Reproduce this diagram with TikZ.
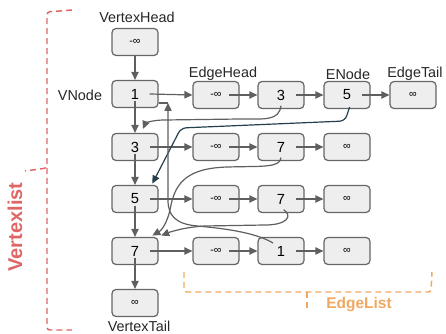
\documentclass[tikz,border=0pt]{standalone}
\usepackage{fontspec}
\setmainfont{Liberation Sans}
\usetikzlibrary{arrows.meta}
\definecolor{boxfill}{HTML}{EEEEEE}
\definecolor{boxline}{HTML}{666666}
\definecolor{linkgray}{HTML}{5F5F5F}
\definecolor{linkdark}{HTML}{263F4C}
\definecolor{listred}{HTML}{E06666}
\definecolor{listorange}{HTML}{F0A860}

\begin{document}
\begin{tikzpicture}[x=0.75pt,y=-0.75pt,
  box/.style={draw=boxline,fill=boxfill,line width=0.9pt,rounded corners=3pt,
    minimum width=34.5pt,minimum height=20.25pt,inner sep=0pt,
    font=\fontsize{11}{13}\selectfont},
  infbox/.style={box,font=\fontsize{8}{10}\selectfont},
  lbl/.style={font=\fontsize{10.8}{13}\selectfont,text=black!85},
  link/.style={draw=linkgray,line width=0.9pt,-{Triangle[length=6pt,width=5.5pt]}},
  plain link/.style={draw=linkgray,line width=0.9pt},
  brace/.style={line width=1.1pt,dash pattern=on 4.5pt off 3pt,rounded corners=2pt}]
\useasboundingbox (0,0) rectangle (446,334);
% Vertex list
\node[infbox] (vh) at (135,42) {-∞};
\node[box] (v1) at (135,94) {1};
\node[box] (v3) at (135,147) {3};
\node[box] (v5) at (135,199) {5};
\node[box] (v7) at (135,251) {7};
\node[infbox] (vt) at (135,303) {∞};
% Edge lists
\node[infbox] (h1) at (216,95) {-∞};
\node[box] (a1) at (281,95) {3};
\node[box] (b1) at (347,95) {5};
\node[infbox] (t1) at (413,95) {∞};
\node[infbox] (h3) at (216,147) {-∞};
\node[box] (a3) at (281,147) {7};
\node[infbox] (t3) at (347,147) {∞};
\node[infbox] (h5) at (216,199) {-∞};
\node[box] (a5) at (281,199) {7};
\node[infbox] (t5) at (347,199) {∞};
\node[infbox] (h7) at (216,251) {-∞};
\node[box] (b7) at (281,251) {1};
\node[infbox] (t7) at (347,251) {∞};
% Labels
\node[lbl] (vhlbl) at (137,17) {VertexHead};
\node[lbl] (vnlbl) at (80,95) {VNode};
\node[lbl] (ehlbl) at (223,74) {EdgeHead};
\node[lbl] (enlbl) at (348,74) {ENode};
\node[lbl] (etlbl) at (415,74) {EdgeTail};
\node[lbl] (vtlbl) at (139,326) {VertexTail};
% Vertical links
\draw[link] (vh.south) -- (v1.north);
\draw[link] ([yshift=-5pt]v1.center) -- (v3.north);
\draw[link] ([yshift=-5pt]v3.center) -- (v5.north);
\draw[link] ([yshift=-5pt]v5.center) -- (v7.north);
\draw[link] ([yshift=-5pt]v7.center) -- (vt.north);
% Horizontal links
\draw[link] ([xshift=11pt]v1.center) -- (h1.west);
\draw[link] ([xshift=10pt]h1.center) -- (a1.west);
\draw[link] ([xshift=11pt]a1.center) -- (b1.west);
\draw[link] ([xshift=11pt]b1.center) -- (t1.west);
\draw[link] ([xshift=11pt]v3.center) -- (h3.west);
\draw[link] ([xshift=10pt]h3.center) -- (a3.west);
\draw[link] ([xshift=11pt]a3.center) -- (t3.west);
\draw[link] ([xshift=11pt]v5.center) -- (h5.west);
\draw[link] ([xshift=10pt]h5.center) -- (a5.west);
\draw[link] ([xshift=11pt]a5.center) -- (t5.west);
\draw[link] ([xshift=11pt]v7.center) -- (h7.west);
\draw[link] ([xshift=10pt]h7.center) -- (b7.west);
\draw[link] ([xshift=11pt]b7.center) -- (t7.west);
% Edges back to the vertices
\draw[link] ([yshift=-8pt]a1.center) .. controls (279,121) and (265,119) .. (240,119)
  -- (165,120) .. controls (150,120) and (145,124) .. ([xshift=6pt,yshift=3pt]v3.north);
\draw[link,draw=linkdark,rounded corners=4pt] ([xshift=2pt,yshift=-9pt]b1.center)
  -- (345,121) -- (181,128) -- ([xshift=13pt,yshift=1pt]v5.north);
\draw[link] ([yshift=-8pt]a3.center) .. controls (280,168) and (262,166) .. (228,167)
  .. controls (188,168) and (176,182) .. (171,205)
  .. controls (168,222) and (162,230) .. ([xshift=13pt,yshift=1pt]v7.north);
\draw[link] ([xshift=2pt,yshift=-8pt]a5.center) .. controls (293,216) and (287,225) .. (265,225)
  -- (205,226) .. controls (185,227) and (170,232) .. ([xshift=2pt,yshift=1pt]v7.north east);
\coordinate (back) at (168,103);
\draw[link] ([xshift=-6pt,yshift=6pt]b7.center) .. controls (255,232) and (220,228) .. (197,226)
  .. controls (176,224) and (168,216) .. (168,200) -- (back);
\draw[plain link] (back) -- (back -| v1.east);
% Brackets
\draw[brace,listred] (72,10) -- (47,12) -- (47,168) -- (25,171);
\draw[brace,listred] (47,168) -- (47,330) -- (72,330);
\node[rotate=90,text=listred,font=\fontsize{15}{18}\selectfont\bfseries] (vllbl) at (15,227) {Vertexlist};
\draw[brace,listorange] (184,272) -- (184,292) -- (431,292) -- (432,272);
\draw[brace,listorange] (307,292) -- (307,312);
\node[text=listorange,font=\fontsize{11.6}{14}\selectfont\bfseries] (ellbl) at (359,305) {EdgeList};
\end{tikzpicture}
\end{document}
